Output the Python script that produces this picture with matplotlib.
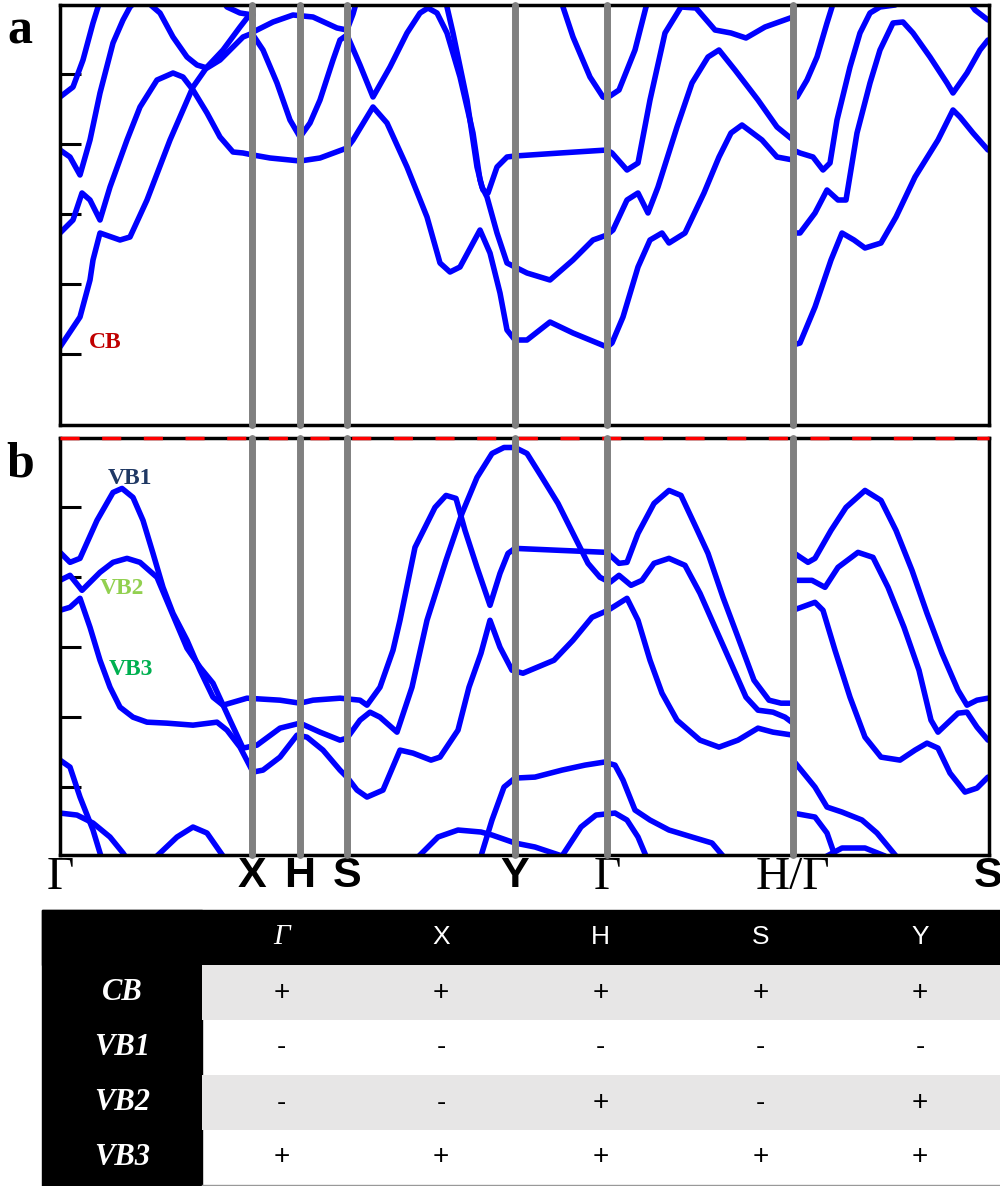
import matplotlib
matplotlib.use("Agg")
import matplotlib.pyplot as plt
from matplotlib.patches import Rectangle

SERIF = "Liberation Serif"
SANS = "Liberation Sans"

# high-symmetry points along the k-path (path coordinate, arbitrary units)
kpath = [0, 192, 240, 287, 455, 547, 733, 928]
klabels = ["Γ", "X", "H", "S", "Y", "Γ", "H/Γ", "S"]
kfonts = ["serif", "sans", "sans", "sans", "sans", "serif", "serif", "sans"]

# ---- panel a: conduction bands (energy, arbitrary units) ----
p_k = [0, 13, 23, 33, 38, 40]
p_e = [327, 337, 364, 401, 417, 424]
q_k = [0, 10, 20, 30, 40, 53, 63, 70, 81, 93, 100, 113, 127, 137, 147, 160, 173, 183, 193]
q_e = [274, 267, 249, 284, 331, 381, 404, 417, 428, 417, 411, 387, 367, 359, 356, 364, 377, 387, 391]
r_k = [0, 13, 22, 30, 40, 50, 67, 80, 97, 113, 123, 133, 147, 160, 173, 183, 193, 210, 240, 260, 287]
r_e = [191, 204, 231, 224, 204, 237, 284, 317, 344, 351, 347, 334, 311, 287, 272, 271, 269, 266, 263, 266, 276]
cb_k = [0, 20, 30, 33, 40, 60, 70, 87, 110, 133, 147, 163, 180, 187, 193]
cb_e = [77, 107, 144, 164, 191, 184, 187, 224, 284, 337, 357, 374, 397, 406, 409]
top_k = [162, 167, 180, 193]
top_e = [424, 417, 411, 409]
hump_k = [193, 197, 213, 233, 253, 277, 287, 293, 297]
hump_e = [392, 394, 402, 409, 407, 396, 394, 410, 424]
vee_k = [193, 203, 217, 230, 240, 250, 260, 273, 280, 287]
vee_e = [389, 374, 341, 304, 287, 301, 324, 364, 384, 389]
alpha_k = [287, 300, 313, 330, 347, 360, 368, 377, 387, 400, 413, 420, 423, 428, 437, 447, 455, 500, 547]
alpha_e = [389, 359, 327, 357, 391, 411, 416, 411, 391, 347, 291, 244, 234, 231, 257, 267, 268, 271, 274]
beta_k = [385, 387, 393, 407, 417, 422, 427, 437, 447, 455, 467, 490, 513, 533, 547]
beta_e = [424, 417, 391, 324, 257, 237, 227, 191, 161, 157, 151, 144, 164, 184, 189]
gamma_k = [287, 293, 313, 327, 347, 367, 380, 390, 400, 420, 430, 440, 447, 455, 467, 490, 513, 547]
gamma_e = [276, 284, 317, 301, 257, 207, 161, 152, 157, 194, 171, 131, 94, 84, 84, 102, 91, 77]
u_k = [502, 503, 513, 530, 543, 547, 559, 575, 586, 589]
u_e = [424, 417, 387, 347, 327, 326, 334, 374, 417, 424]
t_k = [547, 552, 567, 578, 590, 605, 621, 636, 655, 671, 686, 705, 733]
t_e = [274, 271, 254, 261, 324, 391, 417, 416, 394, 391, 386, 397, 407]
v2_k = [547, 553, 567, 578, 588, 598, 617, 632, 648, 659, 675, 698, 717, 733]
v2_e = [189, 194, 224, 231, 211, 237, 297, 341, 367, 374, 354, 324, 297, 284]
w_k = [547, 552, 563, 578, 590, 602, 609, 625, 644, 659, 671, 682, 702, 717, 733]
w_e = [77, 81, 107, 157, 184, 191, 181, 191, 231, 267, 291, 299, 284, 267, 264]
h1_k = [733, 737, 747, 757, 767, 772, 774]
h1_e = [327, 327, 344, 367, 401, 417, 424]
h2_k = [733, 740, 753, 763, 770, 777, 790, 800, 810, 820, 835, 845]
h2_e = [274, 271, 267, 254, 261, 304, 357, 391, 411, 417, 419, 424]
h3_k = [733, 740, 755, 767, 778, 786, 797, 810, 820, 833, 843, 853, 870, 887, 893, 907, 920, 928]
h3_e = [191, 191, 211, 234, 224, 224, 291, 341, 374, 401, 402, 391, 367, 341, 331, 351, 374, 384]
h4_k = [733, 740, 755, 771, 782, 794, 805, 821, 836, 855, 878, 893, 900, 913, 928]
h4_e = [79, 81, 117, 164, 191, 184, 176, 181, 207, 247, 284, 314, 307, 291, 274]
h5_k = [908, 915, 928]
h5_e = [424, 414, 404]

# ---- panel b: valence bands ----
vb1_k = [0, 10, 20, 37, 53, 62, 73, 83, 93, 103, 113, 127, 140, 153, 163, 187, 220, 240, 253, 280,
         300, 307, 320, 333, 340, 355, 375, 386, 396, 405, 417, 430, 440, 448, 455, 500, 547, 559, 567, 578,
         594, 609, 621, 636, 648, 663, 678, 694, 709, 721, 733]
vb1_e = [-115, -125, -121, -83, -55, -51, -60, -83, -116, -150, -176, -203, -233, -260, -268, -261, -263, -266, -263, -261,
         -263, -268, -250, -213, -183, -110, -70, -58, -61, -93, -130, -168, -136, -116, -111, -113, -115, -126, -125, -96,
         -66, -53, -58, -90, -116, -160, -200, -243, -263, -266, -266]
vb2_k = [0, 10, 22, 40, 53, 67, 80, 97, 113, 127, 140, 153, 170, 183, 197, 220, 240, 260, 280, 287,
         300, 310, 320, 337, 352, 367, 386, 402, 417, 432, 444, 455, 467, 482, 498, 513, 528, 540, 550, 559,
         571, 582, 594, 609, 625, 640, 655, 671, 686, 698, 713, 725, 733]
vb2_e = [-143, -138, -153, -135, -125, -121, -125, -140, -178, -211, -230, -246, -283, -311, -308, -291, -286, -295, -303, -301,
         -283, -275, -280, -295, -250, -183, -123, -76, -40, -16, -10, -10, -16, -40, -66, -96, -126, -140, -145, -138,
         -148, -143, -126, -121, -128, -156, -190, -226, -260, -273, -275, -280, -286]
vb3_k = [0, 10, 20, 30, 40, 50, 60, 73, 87, 107, 133, 157, 167, 180, 193, 203, 220, 237, 247, 263,
         280, 287, 297, 307, 323, 340, 353, 371, 380, 398, 409, 421, 430, 440, 452, 463, 494, 513, 532, 548,
         567, 578, 590, 602, 617, 640, 659, 678, 698, 713, 733]
vb3_e = [-173, -170, -161, -190, -223, -250, -270, -280, -285, -286, -288, -285, -293, -310, -335, -333, -320, -298, -300, -313,
         -333, -340, -353, -360, -353, -313, -316, -323, -320, -293, -250, -216, -183, -210, -233, -236, -223, -203, -180, -173,
         -161, -183, -223, -256, -283, -303, -310, -303, -291, -295, -298]
g1_k = [733, 748, 755, 771, 786, 805, 821, 836, 852, 867, 882, 898, 907, 917, 928]
g1_e = [-115, -125, -121, -93, -70, -53, -63, -93, -133, -176, -216, -253, -268, -263, -261]
g2_k = [733, 752, 765, 778, 798, 813, 828, 844, 859, 871, 878, 898, 907, 917, 928]
g2_e = [-143, -143, -150, -130, -115, -120, -150, -190, -233, -283, -295, -276, -275, -290, -303]
g3_k = [733, 755, 763, 775, 790, 805, 821, 840, 855, 867, 878, 890, 905, 917, 928]
g3_e = [-173, -165, -173, -213, -260, -300, -320, -323, -313, -306, -311, -336, -355, -351, -340]
l1_k = [0, 10, 20, 33, 40, 41]
l1_e = [-323, -330, -360, -393, -416, -419]
l2_k = [0, 17, 33, 50, 63, 65]
l2_e = [-376, -378, -386, -400, -416, -419]
l3_k = [97, 117, 133, 147, 163]
l3_e = [-419, -400, -390, -396, -419]
l4_k = [359, 378, 398, 421, 432, 455, 475, 502]
l4_e = [-419, -400, -393, -395, -398, -406, -410, -419]
l5_k = [421, 432, 444, 455, 475, 502, 525, 544, 555, 563, 575, 590, 609, 632, 652, 663]
l5_e = [-419, -383, -350, -341, -340, -333, -328, -325, -328, -343, -373, -383, -393, -400, -406, -419]
l6_k = [502, 521, 536, 555, 567, 578, 586]
l6_e = [-419, -390, -378, -376, -383, -400, -419]
l7_k = [733, 755, 767, 782, 802, 817, 836]
l7_e = [-323, -350, -370, -375, -383, -396, -419]
l8_k = [733, 755, 767, 775]
l8_e = [-376, -380, -396, -419]
l9_k = [767, 782, 805, 825]
l9_e = [-419, -411, -411, -419]

# ---- parity table ----
table_cols = ["Γ", "X", "H", "S", "Y"]
table_rows = ["CB", "VB1", "VB2", "VB3"]
parity_cb = ["+", "+", "+", "+", "+"]
parity_vb1 = ["-", "-", "-", "-", "-"]
parity_vb2 = ["-", "-", "+", "-", "+"]
parity_vb3 = ["+", "+", "+", "+", "+"]

bands_a = [(p_k, p_e), (q_k, q_e), (r_k, r_e), (cb_k, cb_e), (top_k, top_e), (hump_k, hump_e),
           (vee_k, vee_e), (alpha_k, alpha_e), (beta_k, beta_e), (gamma_k, gamma_e), (u_k, u_e),
           (t_k, t_e), (v2_k, v2_e), (w_k, w_e), (h1_k, h1_e), (h2_k, h2_e), (h3_k, h3_e),
           (h4_k, h4_e), (h5_k, h5_e)]
bands_b = [(vb1_k, vb1_e), (vb2_k, vb2_e), (vb3_k, vb3_e), (g1_k, g1_e), (g2_k, g2_e), (g3_k, g3_e),
           (l1_k, l1_e), (l2_k, l2_e), (l3_k, l3_e), (l4_k, l4_e), (l5_k, l5_e), (l6_k, l6_e),
           (l7_k, l7_e), (l8_k, l8_e), (l9_k, l9_e)]
parity = [parity_cb, parity_vb1, parity_vb2, parity_vb3]

W, H = 1000, 1186
fig = plt.figure(figsize=(W / 100, H / 100), dpi=100)


def px_axes(x0, y0, x1, y1):
    return fig.add_axes([x0 / W, 1 - y1 / H, (x1 - x0) / W, (y1 - y0) / H])


ax_a = px_axes(60, 5, 989, 424.5)
ax_b = px_axes(60, 437.5, 989, 855)

for ax, bands, ylim, ticks in [(ax_a, bands_a, (-0.5, 419), [70, 140, 210, 280, 350]),
                               (ax_b, bands_b, (-418, 0), [-70, -140, -210, -280, -350])]:
    for k, e in bands:
        ax.plot(k, e, color="#0000ff", lw=4, solid_joinstyle="round", solid_capstyle="round", zorder=2)
    for kp in kpath[1:-1]:
        ax.axvline(kp, color="#808080", lw=5, solid_capstyle="round", clip_on=False, zorder=4)
    ax.set_xlim(0, 929)
    ax.set_ylim(*ylim)
    ax.set_yticks(ticks)
    ax.set_yticklabels([])
    ax.tick_params(axis="y", direction="in", length=15, width=2.2, left=True, right=False)
    for sp in ax.spines.values():
        sp.set_linewidth(2.5)
        sp.set_color("black")

ax_a.set_xticks([])
ax_b.set_xticks(kpath)
ax_b.set_xticklabels(klabels)
ax_b.tick_params(axis="x", length=0, pad=1)
for lab, f in zip(ax_b.get_xticklabels(), kfonts):
    if f == "serif":
        lab.set_fontfamily(SERIF)
        lab.set_fontsize(34)
    else:
        lab.set_fontfamily(SANS)
        lab.set_fontweight("bold")
        lab.set_fontsize(31)

# Fermi level drawn as red/black dashed top edge of panel b
ax_b.axhline(0, color="red", lw=2.5, ls=(0, (5.5, 6.5)), clip_on=False, zorder=3)

# band labels
ax_a.text(45, 81, "CB", color="#c00000", fontsize=17, fontweight="bold", family=SERIF, ha="center", va="center")
ax_b.text(70, -41, "VB1", color="#1f3864", fontsize=17, fontweight="bold", family=SERIF, ha="center", va="center")
ax_b.text(62, -151, "VB2", color="#92d050", fontsize=17, fontweight="bold", family=SERIF, ha="center", va="center")
ax_b.text(71, -232, "VB3", color="#00b050", fontsize=17, fontweight="bold", family=SERIF, ha="center", va="center")

fig.text(20 / W, 1 - 43 / H, "a", fontsize=36, fontweight="bold", family=SERIF, ha="center", va="baseline")
fig.text(20 / W, 1 - 477 / H, "b", fontsize=36, fontweight="bold", family=SERIF, ha="center", va="baseline")

# parity table
ax_t = px_axes(42, 910, 1000, 1185)
ncol = len(table_cols) + 1
nrow = len(table_rows) + 1
ax_t.set_xlim(0, ncol)
ax_t.set_ylim(nrow, 0)
ax_t.axis("off")
ax_t.add_patch(Rectangle((0, 0), ncol, 1, color="black", clip_on=False))
ax_t.add_patch(Rectangle((0, 0), 1, nrow + 0.05, color="black", clip_on=False))
for i, row in enumerate(table_rows):
    if i % 2 == 0:
        ax_t.add_patch(Rectangle((1, i + 1), ncol - 1, 1, color="#e7e6e6", lw=0))
    ax_t.text(0.5, i + 1.5, row, color="white", fontsize=22, fontweight="bold", fontstyle="italic",
              family=SERIF, ha="center", va="center")
    for j, sign in enumerate(parity[i]):
        ax_t.text(j + 1.5, i + 1.5, sign, color="black", fontsize=20, family=SANS, ha="center", va="center")
for j, col in enumerate(table_cols):
    if col == "Γ":
        ax_t.text(j + 1.5, 0.5, col, color="white", fontsize=21, fontstyle="italic", family=SERIF,
                  ha="center", va="center")
    else:
        ax_t.text(j + 1.5, 0.5, col, color="white", fontsize=19, family=SANS, ha="center", va="center")
ax_t.plot([1, ncol], [nrow, nrow], color="#999999", lw=1, clip_on=False)

fig.savefig("out.png", dpi=100)
